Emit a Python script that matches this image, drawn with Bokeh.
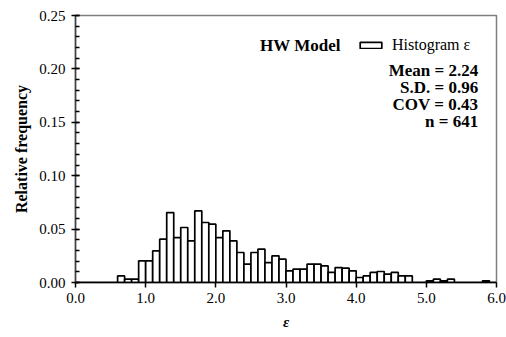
from bokeh.plotting import figure
from bokeh.models import (Range1d, FixedTicker, NumeralTickFormatter, Label,
                          Legend, LegendItem, ColumnDataSource)
from bokeh.embed import file_html
from bokeh.resources import INLINE

# ---- data ----
bin_start = [round(0.1 * i, 1) for i in range(60)]
bin_width = 0.1
rel_freq = [
    0.0, 0.0, 0.0, 0.0, 0.0, 0.0,            # 0.0 - 0.5
    0.0062, 0.0031, 0.0031, 0.0203,          # 0.6 - 0.9
    0.0203, 0.0296, 0.0406, 0.0655, 0.0421,  # 1.0 - 1.4
    0.0515, 0.0390, 0.0671, 0.0562, 0.0546,  # 1.5 - 1.9
    0.0421, 0.0484, 0.0390, 0.0281, 0.0172,  # 2.0 - 2.4
    0.0281, 0.0312, 0.0187, 0.0250, 0.0218,  # 2.5 - 2.9
    0.0109, 0.0125, 0.0125, 0.0172, 0.0172,  # 3.0 - 3.4
    0.0156, 0.0094, 0.0140, 0.0134, 0.0109,  # 3.5 - 3.9
    0.0047, 0.0062, 0.0094, 0.0103, 0.0078,  # 4.0 - 4.4
    0.0094, 0.0062, 0.0062, 0.0, 0.0,        # 4.5 - 4.9
    0.0016, 0.0031, 0.0016, 0.0031, 0.0,     # 5.0 - 5.4
    0.0, 0.0, 0.0, 0.0016, 0.0,              # 5.5 - 5.9
]
x_ticks = [0, 1, 2, 3, 4, 5, 6]
y_ticks = [0.0, 0.05, 0.10, 0.15, 0.20, 0.25]
y_minor = [round(0.01 * i, 2) for i in range(26)]
stats = ["Mean = 2.24", "S.D. = 0.96", "COV = 0.43", "n = 641"]
model_name = "HW Model"
legend_label = "Histogram \u03b5"

FONT = "Liberation Serif"

src = ColumnDataSource(dict(
    left=bin_start,
    right=[b + bin_width for b in bin_start],
    top=rel_freq,
    bottom=[0.0] * len(bin_start),
))

p = figure(width=506, height=337, output_backend="svg", toolbar_location=None,
           x_range=Range1d(0, 6), y_range=Range1d(0, 0.25),
           min_border_left=75, min_border_right=10, min_border_top=15,
           min_border_bottom=55)
p.background_fill_color = "white"
p.border_fill_color = "white"
p.outline_line_color = "#808080"
p.outline_line_width = 1.5
p.xgrid.visible = False
p.ygrid.visible = False

r = p.quad(left="left", right="right", top="top", bottom="bottom", source=src,
           fill_color="white", line_color="black", line_width=1.7)

# axes
xa = p.xaxis[0]
xa.ticker = FixedTicker(ticks=x_ticks)
xa.formatter = NumeralTickFormatter(format="0.0")
xa.axis_label = "\u03b5"
xa.axis_label_text_font = FONT
xa.axis_label_text_font_style = "bold italic"
xa.axis_label_text_font_size = "15px"
xa.axis_label_text_color = "black"
xa.axis_label_standoff = 8
xa.major_label_text_font = FONT
xa.major_label_text_font_size = "15px"
xa.major_label_text_color = "black"
xa.major_label_standoff = 5
xa.axis_line_color = "black"
xa.axis_line_width = 1.5
xa.major_tick_in = 0
xa.major_tick_out = 5
xa.major_tick_line_width = 1.5
xa.minor_tick_line_color = None

ya = p.yaxis[0]
ya.ticker = FixedTicker(ticks=y_ticks, minor_ticks=y_minor)
ya.formatter = NumeralTickFormatter(format="0.00")
ya.axis_label = "Relative frequency"
ya.axis_label_text_font = FONT
ya.axis_label_text_font_style = "bold"
ya.axis_label_text_font_size = "16px"
ya.axis_label_text_color = "black"
ya.axis_label_standoff = 6
ya.major_label_text_font = FONT
ya.major_label_text_font_size = "15px"
ya.major_label_text_color = "black"
ya.major_label_standoff = 6
ya.axis_line_color = "#404040"
ya.axis_line_width = 1.5
ya.major_tick_in = 4
ya.major_tick_out = 4
ya.major_tick_line_width = 1.5
ya.minor_tick_in = 4
ya.minor_tick_out = 0
ya.minor_tick_line_width = 1.5

# legend
legend = Legend(items=[LegendItem(label=legend_label, renderers=[r])],
                location=(282, 228), orientation="horizontal",
                background_fill_alpha=0, border_line_color=None,
                padding=0, margin=0, glyph_width=27, glyph_height=8,
                label_height=14, label_standoff=8,
                label_text_font=FONT, label_text_font_size="16px",
                label_text_color="black")
p.add_layout(legend, "center")

p.add_layout(Label(x=3.78, y=0.2215, text=model_name, text_font=FONT,
                   text_font_style="bold", text_font_size="17px",
                   text_color="black",
                   text_align="right", text_baseline="middle"))

ys = [0.1985, 0.1826, 0.1667, 0.1507]
for t, yy in zip(stats, ys):
    p.add_layout(Label(x=5.74, y=yy, text=t, text_font=FONT,
                       text_font_style="bold", text_font_size="17px",
                       text_color="black",
                       text_align="right", text_baseline="middle"))

open("out.html", "w").write(file_html(p, INLINE))
